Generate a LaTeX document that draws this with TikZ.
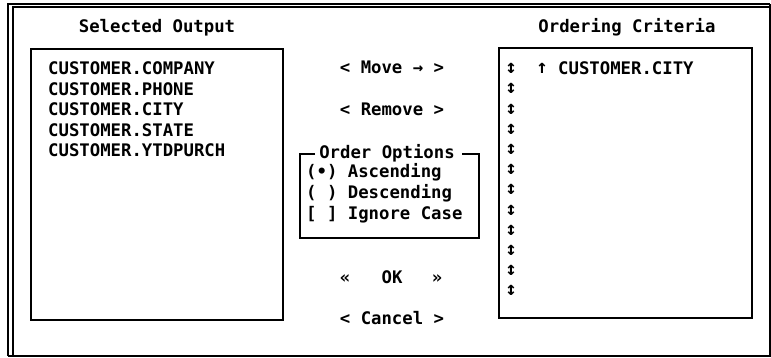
\documentclass[tikz,border=0pt]{standalone}
\usepackage{fontspec}
\setmonofont{DejaVu Sans Mono}
\begin{document}
\begin{tikzpicture}[x=1pt,y=-1pt,
  txt/.style={font=\ttfamily\bfseries\fontsize{17.3}{20}\selectfont, inner sep=0pt, anchor=base west},
  ctxt/.style={font=\ttfamily\bfseries\fontsize{17.3}{20}\selectfont, inner sep=0pt, anchor=base},
  arr/.style={font=\ttfamily\bfseries\fontsize{19}{20}\selectfont, inner sep=0pt, anchor=center},
  frame/.style={line width=2pt},
  box/.style={line width=2.2pt}]
\useasboundingbox (0,0) rectangle (771,358);
% outer window frame
\draw[frame] (8,356) -- (8,4) -- (770,4);
\draw[frame] (13,356) -- (13,7.5) -- (770,7.5);
\draw[line width=1.2pt] (770,4) -- (770,356) -- (8,356);
% titles
\node[ctxt] (t1) at (157,33) {Selected Output};
\node[ctxt] (t2) at (627,33) {Ordering Criteria};
% left list box
\draw[box] (31,49) rectangle (283,320);
\node[txt] (l1) at (48,75) {CUSTOMER.COMPANY};
\node[txt] (l2) at (48,95.5) {CUSTOMER.PHONE};
\node[txt] (l3) at (48,116) {CUSTOMER.CITY};
\node[txt] (l4) at (48,136.5) {CUSTOMER.STATE};
\node[txt] (l5) at (48,157) {CUSTOMER.YTDPURCH};
% right box
\draw[box] (499,48) rectangle (752,318);
\foreach \i in {0,...,11}{
  \node[arr] (a\i) at (511,{68.5+\i*20.2}) {↕};
}
\node[arr] (up) at (542,68.5) {↑};
\node[txt] (r1) at (558,75) {CUSTOMER.CITY};
% middle buttons
\node[ctxt] (mv) at (392,74) {< Move → >};
\node[ctxt] (rm) at (392,116) {< Remove >};
\node[ctxt] (oo) at (387,159) {Order Options};
\draw[box] (315,154) -- (300,154) -- (300,238) -- (479,238) -- (479,154) -- (462,154);
\node[txt] (o1) at (306,178) {(•) Ascending};
\node[txt] (o2) at (306,199) {( ) Descending};
\node[txt] (o3) at (306,219.5) {[ ] Ignore Case};
\node[ctxt] (okl) at (345,283) {«};
\node[ctxt] (ok) at (392,283) {OK};
\node[ctxt] (okr) at (437,283) {»};
\node[ctxt] (cn) at (392,324) {< Cancel >};
\end{tikzpicture}
\end{document}
